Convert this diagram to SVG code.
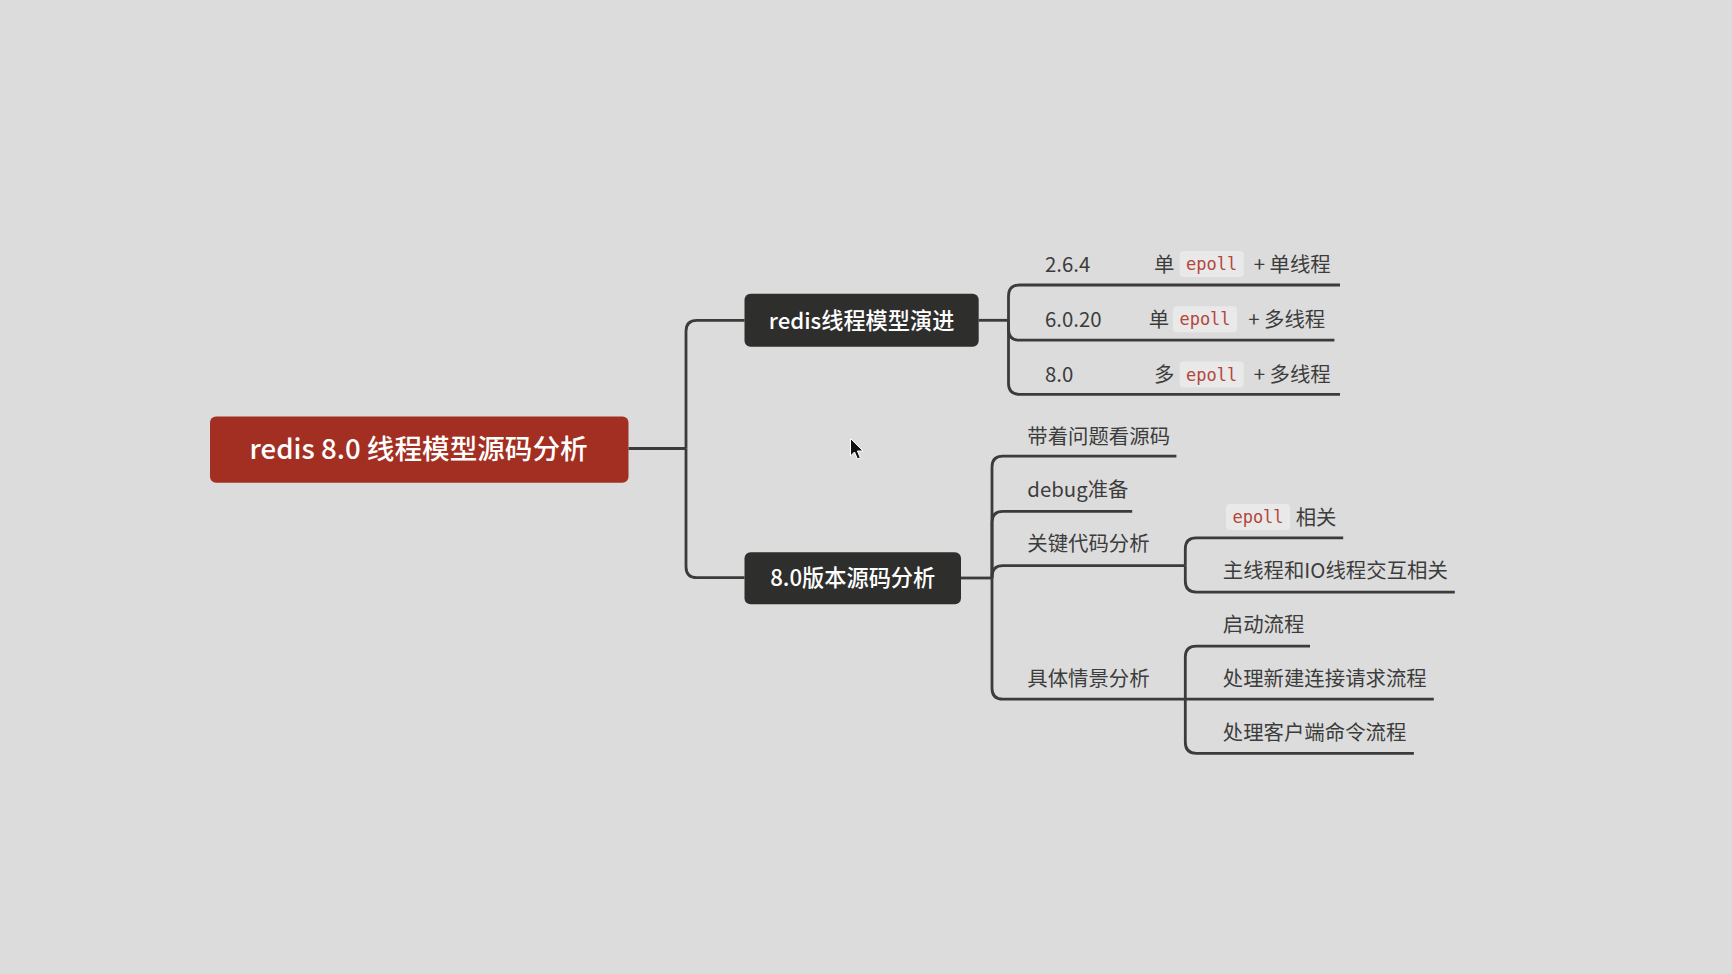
<svg xmlns="http://www.w3.org/2000/svg" width="1732" height="974" viewBox="0 0 1732 974">
<style>
.bg{fill:#dcdcdc}
.root{fill:#a22f22}
.box{fill:#2e2e2c}
.rt{font-family:"Noto Sans CJK SC","Liberation Sans",sans-serif;font-size:27.6px;font-weight:500;fill:#ffffff;text-anchor:middle}
.bt{font-family:"Noto Sans CJK SC","Liberation Sans",sans-serif;font-size:22.2px;font-weight:500;fill:#ffffff;text-anchor:middle}
.t{font-family:"Noto Sans CJK SC","Liberation Sans",sans-serif;font-size:20.4px;fill:#3c3c3c}
.pill{fill:#e9e9e9}
.code{font-family:"DejaVu Sans Mono","Liberation Mono",monospace;font-size:17px;fill:#b4473d;text-anchor:middle}
.ln{fill:none;stroke:#3b3b3b;stroke-width:2.8;stroke-linecap:butt}
</style>
<rect class="bg" x="0" y="0" width="1732" height="974"/>
<g id="connectors">
<path class="ln" d="M628.5 448.5 H686"/>
<path class="ln" d="M686 448.5 V331.3 Q686 320.3 697 320.3 H744.5"/>
<path class="ln" d="M686 448.5 V566.7 Q686 577.7 697 577.7 H744.5"/>
<path class="ln" d="M978.7 320.3 H1008.5"/>
<path class="ln" d="M1008.5 320.3 V296 Q1008.5 285 1019.5 285 H1340"/>
<path class="ln" d="M1008.5 320.3 V329.2 Q1008.5 340.2 1019.5 340.2 H1334.4"/>
<path class="ln" d="M1008.5 320.3 V383.3 Q1008.5 394.3 1019.5 394.3 H1340"/>
<path class="ln" d="M961 578 H992"/>
<path class="ln" d="M992 578 V467.2 Q992 456.2 1003 456.2 H1176.4"/>
<path class="ln" d="M992 578 V522.4 Q992 511.4 1003 511.4 H1132.2"/>
<path class="ln" d="M992 578 V576.6 Q992 565.6 1003 565.6 H1185.3"/>
<path class="ln" d="M992 578 V688.2 Q992 699.2 1003 699.2 H1185.3"/>
<path class="ln" d="M1185.3 565.6 V548.9 Q1185.3 537.9 1196.3 537.9 H1343.2"/>
<path class="ln" d="M1185.3 565.6 V581.1 Q1185.3 592.1 1196.3 592.1 H1454.8"/>
<path class="ln" d="M1185.3 699.2 V657.2 Q1185.3 646.2 1196.3 646.2 H1310"/>
<path class="ln" d="M1185.3 699.2 H1433.8"/>
<path class="ln" d="M1185.3 699.2 V742.3 Q1185.3 753.3 1196.3 753.3 H1413.9"/>
</g>
<g id="root">
<rect class="root" x="210" y="416.4" width="418.5" height="66.3" rx="6"/>
<text class="rt" x="418.6" y="458.5">redis 8.0 线程模型源码分析</text>
</g>
<g id="n-evolution">
<rect class="box" x="744.5" y="293.8" width="234.2" height="53" rx="6"/>
<text class="bt" x="861.6" y="328.5">redis线程模型演进</text>
</g>
<g id="n-src">
<rect class="box" x="744.5" y="552.3" width="216.5" height="51.9" rx="6"/>
<text class="bt" x="852.7" y="586">8.0版本源码分析</text>
</g>
<g id="n-264">
<text class="t" x="1045" y="271.6">2.6.4</text>
<text class="t" x="1154" y="271.6">单</text>
<rect class="pill" x="1179.7" y="251" width="64.1" height="26" rx="4"/>
<text class="code" x="1211.7" y="270">epoll</text>
<text class="t" x="1253.7" y="271.6">+ 单线程</text>
</g>
<g id="n-6020">
<text class="t" x="1045" y="326.8">6.0.20</text>
<text class="t" x="1148.8" y="326.8">单</text>
<rect class="pill" x="1173" y="306.2" width="64.1" height="26" rx="4"/>
<text class="code" x="1205" y="325.2">epoll</text>
<text class="t" x="1248.2" y="326.8">+ 多线程</text>
</g>
<g id="n-80">
<text class="t" x="1045" y="382.1">8.0</text>
<text class="t" x="1154" y="382.1">多</text>
<rect class="pill" x="1179.7" y="361.5" width="64.1" height="26" rx="4"/>
<text class="code" x="1211.7" y="380.5">epoll</text>
<text class="t" x="1253.7" y="382.1">+ 多线程</text>
</g>
<g id="n-question">
<text class="t" x="1027.3" y="443.9">带着问题看源码</text>
</g>
<g id="n-debug">
<text class="t" x="1027.3" y="496.9">debug准备</text>
</g>
<g id="n-key">
<text class="t" x="1027.3" y="551.1">关键代码分析</text>
</g>
<g id="n-scene">
<text class="t" x="1027.3" y="685.8">具体情景分析</text>
</g>
<g id="n-epoll">
<rect class="pill" x="1226" y="504" width="64" height="26" rx="4"/>
<text class="code" x="1258" y="523">epoll</text>
<text class="t" x="1295.7" y="524.6">相关</text>
</g>
<g id="n-io">
<text class="t" x="1222.8" y="577.6">主线程和IO线程交互相关</text>
</g>
<g id="n-start">
<text class="t" x="1222.8" y="631.7">启动流程</text>
</g>
<g id="n-conn">
<text class="t" x="1222.8" y="685.8">处理新建连接请求流程</text>
</g>
<g id="n-cmd">
<text class="t" x="1222.8" y="740">处理客户端命令流程</text>
</g>
<path d="M850.5 438.5 V456 L854.5 452 L857.5 459 L860.3 457.8 L857.4 451 L863 451 Z" fill="#111" stroke="#fff" stroke-width="1"/>
</svg>
